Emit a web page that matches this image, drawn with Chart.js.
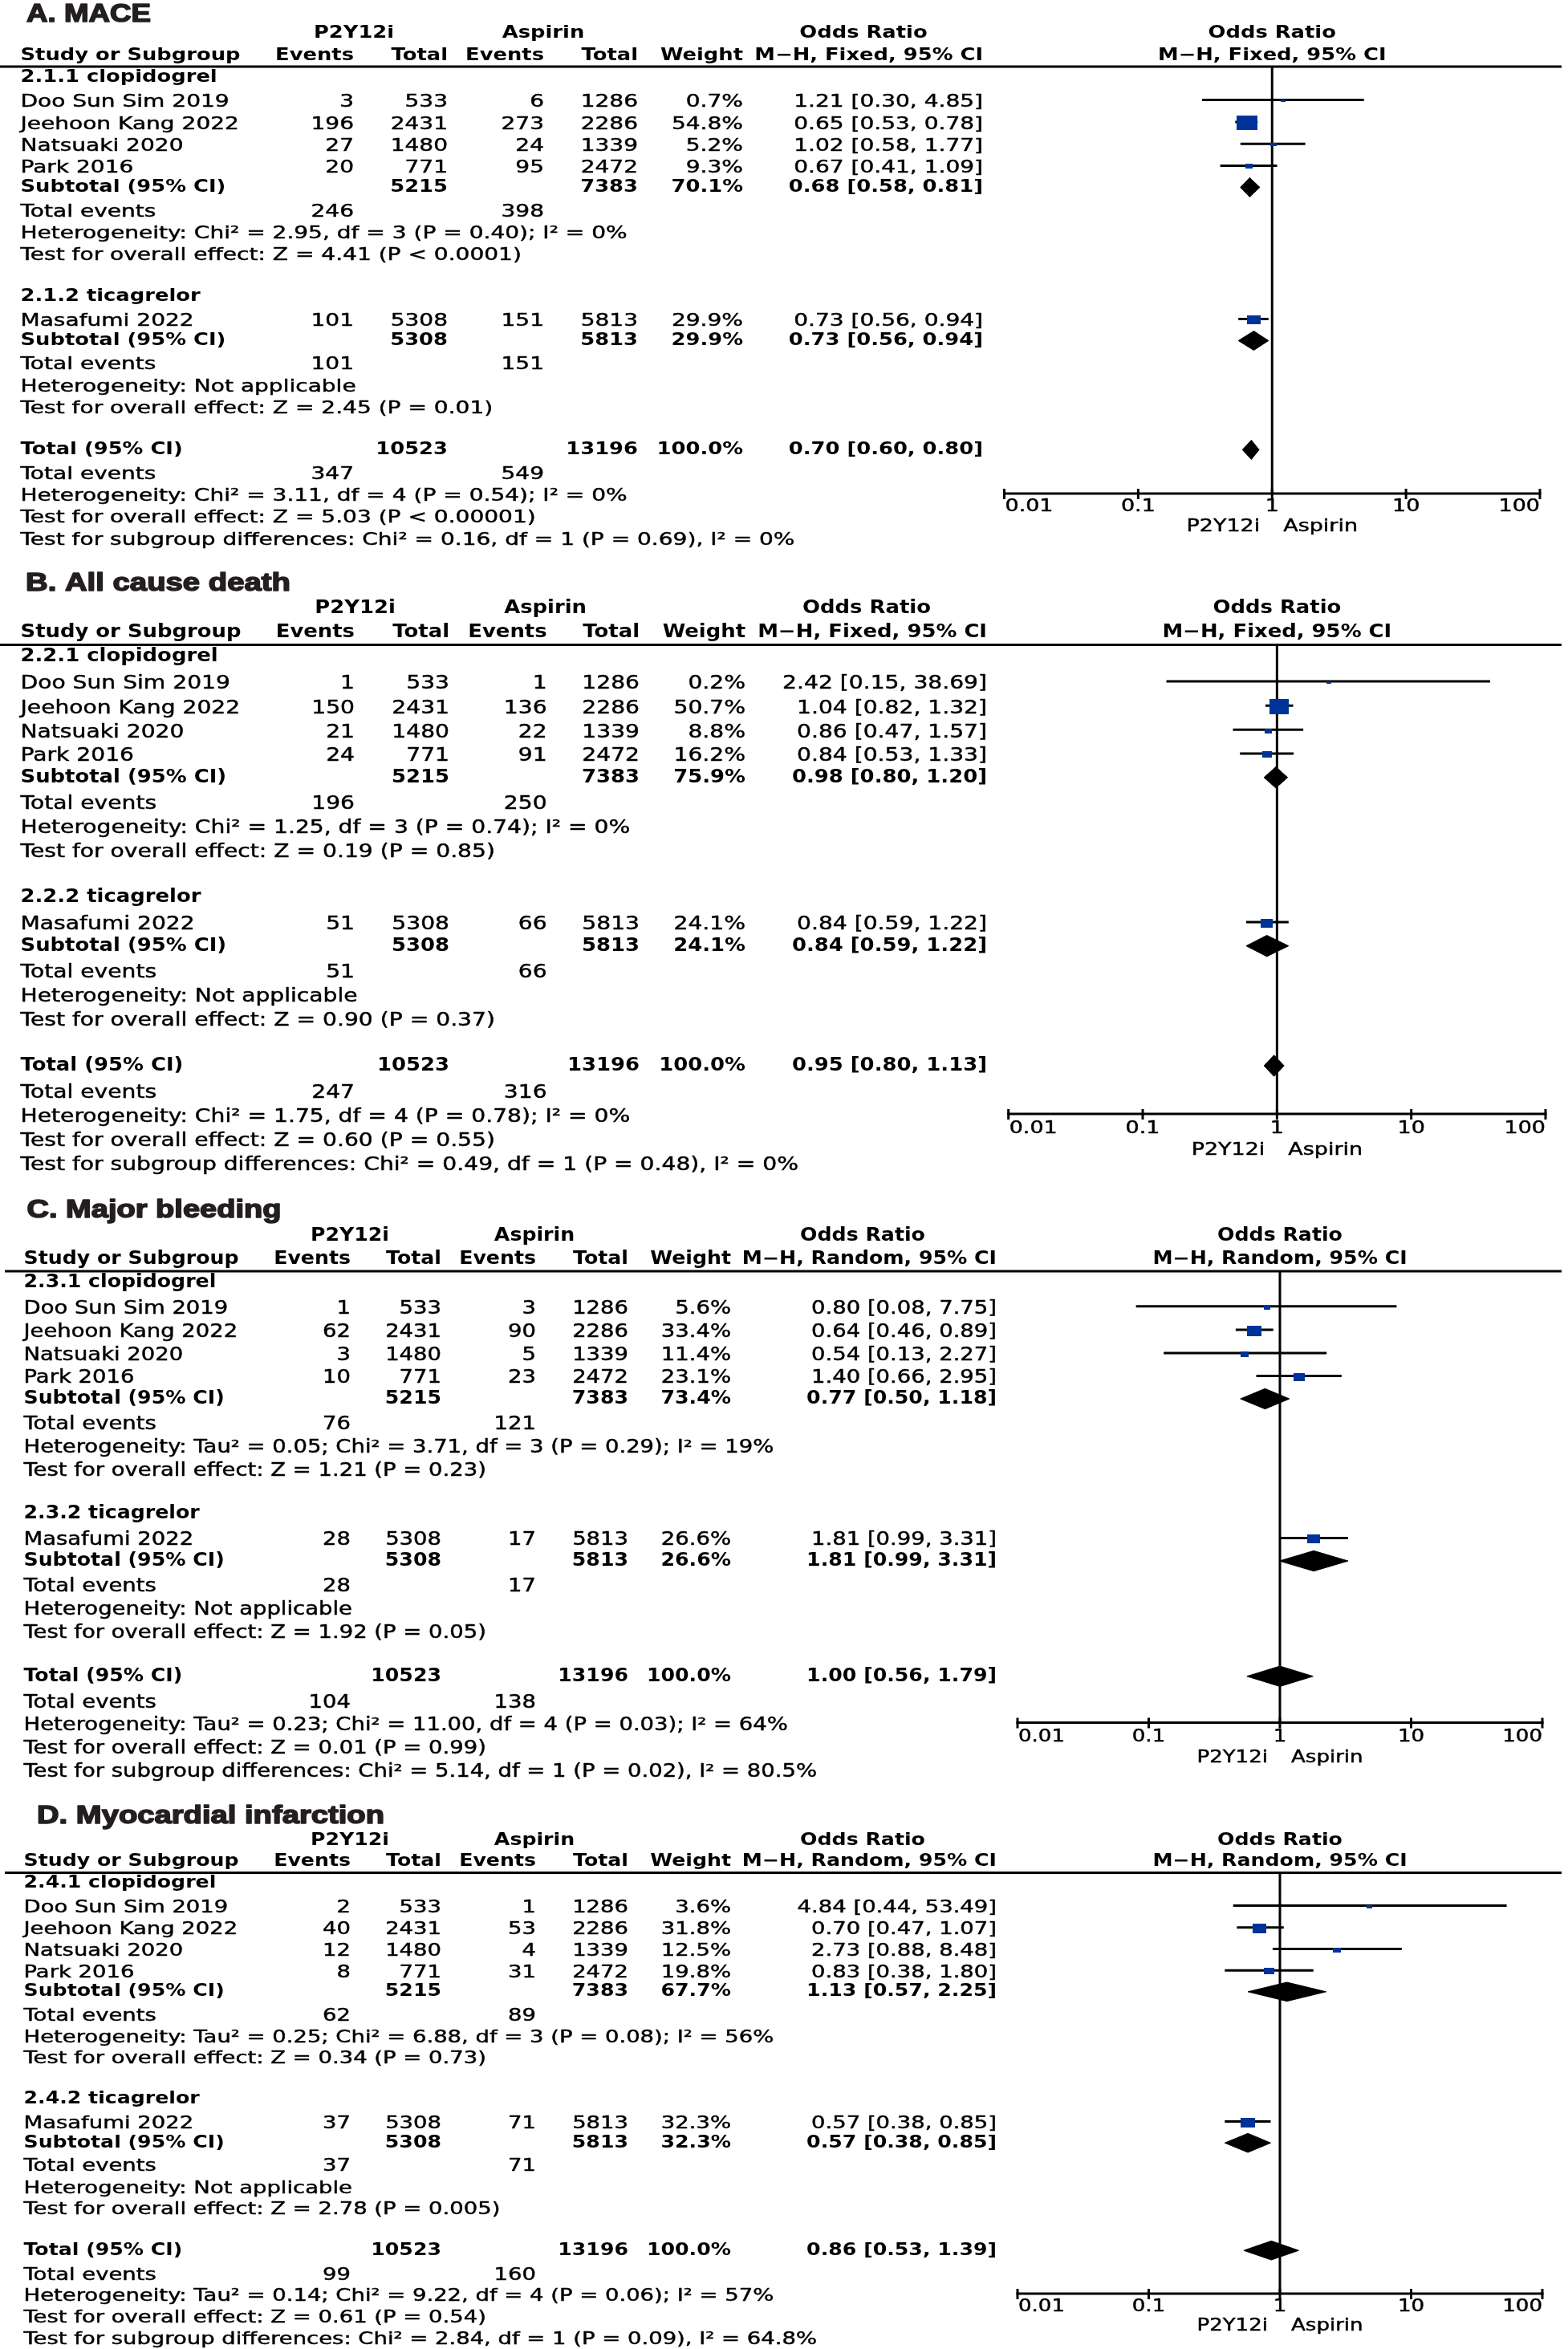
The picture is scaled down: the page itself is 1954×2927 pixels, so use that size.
<!DOCTYPE html>
<html><head><meta charset="utf-8">
<script src="https://cdn.jsdelivr.net/npm/chart.js@4.4.1/dist/chart.umd.min.js"></script>
<style>
html,body{margin:0;padding:0;background:#fff;}
#wrap{position:relative;width:1954px;height:2927px;overflow:hidden;background:#fff;}
canvas{position:absolute;left:0;}
</style></head><body><div id="wrap">
<canvas id="c0"></canvas><canvas id="c1"></canvas><canvas id="c2"></canvas><canvas id="c3"></canvas>
</div>
<script>
// ---------------- DATA ----------------
const studyNames = ['Doo Sun Sim 2019', 'Jeehoon Kang 2022', 'Natsuaki 2020', 'Park 2016', 'Masafumi 2022'];
const studySubgroup = [0, 0, 0, 0, 1];
const totalP2Y12i = [533, 2431, 1480, 771, 5308];
const totalAspirin = [1286, 2286, 1339, 2472, 5813];
const axisTicks = [0.01, 0.1, 1, 10, 100];
const axisTickLabels = ['0.01', '0.1', '1', '10', '100'];

// A. MACE
const maceEventsP2Y12i = [3, 196, 27, 20, 101];
const maceEventsAspirin = [6, 273, 24, 95, 151];
const maceWeight = [0.7, 54.8, 5.2, 9.3, 29.9];
const maceOR = [1.21, 0.65, 1.02, 0.67, 0.73];
const maceLower = [0.30, 0.53, 0.58, 0.41, 0.56];
const maceUpper = [4.85, 0.78, 1.77, 1.09, 0.94];
const maceSubWeight = [70.1, 29.9];
const maceSubOR = [0.68, 0.73];
const maceSubLower = [0.58, 0.56];
const maceSubUpper = [0.81, 0.94];
const maceTotalOR = [0.70, 0.60, 0.80];
const maceHet = ['Heterogeneity: Chi² = 2.95, df = 3 (P = 0.40); I² = 0%', 'Heterogeneity: Not applicable', 'Heterogeneity: Chi² = 3.11, df = 4 (P = 0.54); I² = 0%'];
const maceZ = ['Test for overall effect: Z = 4.41 (P < 0.0001)', 'Test for overall effect: Z = 2.45 (P = 0.01)', 'Test for overall effect: Z = 5.03 (P < 0.00001)'];
const maceSubgroupDiff = 'Test for subgroup differences: Chi² = 0.16, df = 1 (P = 0.69), I² = 0%';

// B. All cause death
const deathEventsP2Y12i = [1, 150, 21, 24, 51];
const deathEventsAspirin = [1, 136, 22, 91, 66];
const deathWeight = [0.2, 50.7, 8.8, 16.2, 24.1];
const deathOR = [2.42, 1.04, 0.86, 0.84, 0.84];
const deathLower = [0.15, 0.82, 0.47, 0.53, 0.59];
const deathUpper = [38.69, 1.32, 1.57, 1.33, 1.22];
const deathSubWeight = [75.9, 24.1];
const deathSubOR = [0.98, 0.84];
const deathSubLower = [0.80, 0.59];
const deathSubUpper = [1.20, 1.22];
const deathTotalOR = [0.95, 0.80, 1.13];
const deathHet = ['Heterogeneity: Chi² = 1.25, df = 3 (P = 0.74); I² = 0%', 'Heterogeneity: Not applicable', 'Heterogeneity: Chi² = 1.75, df = 4 (P = 0.78); I² = 0%'];
const deathZ = ['Test for overall effect: Z = 0.19 (P = 0.85)', 'Test for overall effect: Z = 0.90 (P = 0.37)', 'Test for overall effect: Z = 0.60 (P = 0.55)'];
const deathSubgroupDiff = 'Test for subgroup differences: Chi² = 0.49, df = 1 (P = 0.48), I² = 0%';

// C. Major bleeding
const bleedEventsP2Y12i = [1, 62, 3, 10, 28];
const bleedEventsAspirin = [3, 90, 5, 23, 17];
const bleedWeight = [5.6, 33.4, 11.4, 23.1, 26.6];
const bleedOR = [0.80, 0.64, 0.54, 1.40, 1.81];
const bleedLower = [0.08, 0.46, 0.13, 0.66, 0.99];
const bleedUpper = [7.75, 0.89, 2.27, 2.95, 3.31];
const bleedSubWeight = [73.4, 26.6];
const bleedSubOR = [0.77, 1.81];
const bleedSubLower = [0.50, 0.99];
const bleedSubUpper = [1.18, 3.31];
const bleedTotalOR = [1.00, 0.56, 1.79];
const bleedHet = ['Heterogeneity: Tau² = 0.05; Chi² = 3.71, df = 3 (P = 0.29); I² = 19%', 'Heterogeneity: Not applicable', 'Heterogeneity: Tau² = 0.23; Chi² = 11.00, df = 4 (P = 0.03); I² = 64%'];
const bleedZ = ['Test for overall effect: Z = 1.21 (P = 0.23)', 'Test for overall effect: Z = 1.92 (P = 0.05)', 'Test for overall effect: Z = 0.01 (P = 0.99)'];
const bleedSubgroupDiff = 'Test for subgroup differences: Chi² = 5.14, df = 1 (P = 0.02), I² = 80.5%';

// D. Myocardial infarction
const miEventsP2Y12i = [2, 40, 12, 8, 37];
const miEventsAspirin = [1, 53, 4, 31, 71];
const miWeight = [3.6, 31.8, 12.5, 19.8, 32.3];
const miOR = [4.84, 0.70, 2.73, 0.83, 0.57];
const miLower = [0.44, 0.47, 0.88, 0.38, 0.38];
const miUpper = [53.49, 1.07, 8.48, 1.80, 0.85];
const miSubWeight = [67.7, 32.3];
const miSubOR = [1.13, 0.57];
const miSubLower = [0.57, 0.38];
const miSubUpper = [2.25, 0.85];
const miTotalOR = [0.86, 0.53, 1.39];
const miHet = ['Heterogeneity: Tau² = 0.25; Chi² = 6.88, df = 3 (P = 0.08); I² = 56%', 'Heterogeneity: Not applicable', 'Heterogeneity: Tau² = 0.14; Chi² = 9.22, df = 4 (P = 0.06); I² = 57%'];
const miZ = ['Test for overall effect: Z = 0.34 (P = 0.73)', 'Test for overall effect: Z = 2.78 (P = 0.005)', 'Test for overall effect: Z = 0.61 (P = 0.54)'];
const miSubgroupDiff = 'Test for subgroup differences: Chi² = 2.84, df = 1 (P = 0.09), I² = 64.8%';

const panels = [
  {title:'A. MACE', model:'Fixed', groups:['2.1.1 clopidogrel','2.1.2 ticagrelor'], evP:maceEventsP2Y12i, evA:maceEventsAspirin, w:maceWeight, or:maceOR, lo:maceLower, hi:maceUpper, subW:maceSubWeight, subOR:maceSubOR, subLo:maceSubLower, subHi:maceSubUpper, tot:maceTotalOR, het:maceHet, z:maceZ, sgd:maceSubgroupDiff},
  {title:'B. All cause death', model:'Fixed', groups:['2.2.1 clopidogrel','2.2.2 ticagrelor'], evP:deathEventsP2Y12i, evA:deathEventsAspirin, w:deathWeight, or:deathOR, lo:deathLower, hi:deathUpper, subW:deathSubWeight, subOR:deathSubOR, subLo:deathSubLower, subHi:deathSubUpper, tot:deathTotalOR, het:deathHet, z:deathZ, sgd:deathSubgroupDiff},
  {title:'C. Major bleeding', model:'Random', groups:['2.3.1 clopidogrel','2.3.2 ticagrelor'], evP:bleedEventsP2Y12i, evA:bleedEventsAspirin, w:bleedWeight, or:bleedOR, lo:bleedLower, hi:bleedUpper, subW:bleedSubWeight, subOR:bleedSubOR, subLo:bleedSubLower, subHi:bleedSubUpper, tot:bleedTotalOR, het:bleedHet, z:bleedZ, sgd:bleedSubgroupDiff},
  {title:'D. Myocardial infarction', model:'Random', groups:['2.4.1 clopidogrel','2.4.2 ticagrelor'], evP:miEventsP2Y12i, evA:miEventsAspirin, w:miWeight, or:miOR, lo:miLower, hi:miUpper, subW:miSubWeight, subOR:miSubOR, subLo:miSubLower, subHi:miSubUpper, tot:miTotalOR, het:miHet, z:miZ, sgd:miSubgroupDiff}
];

// ---------------- LAYOUT ----------------
const layoutPx = [
  {top:0,    h:690, line:83,     axis:615,    x0:1251.5, x1:1919, titleX:33,   titleSlot:-2.87, titleW:155, sgdW:965,   boldW:274, axisW:60, cols:[25.5,441,558,678,795,926,1225], grp:[441,677,1076], lineX0:0},
  {top:690,  h:780, line:803.5,  axis:1388,   x0:1256.7, x1:1926, titleX:32,   titleSlot:-3.03, titleW:330, sgdW:969.5, boldW:275, axisW:60, cols:[25.5,442,560,681.6,797,929,1230], grp:[442.5,679.6,1080], lineX0:0},
  {top:1470, h:755, line:1584,   axis:2146.5, x0:1268,   x1:1922, titleX:33.5, titleSlot:-3.11, titleW:317, sgdW:988.5, boldW:268, axisW:58, cols:[29.5,437,550,668,783,911,1242], grp:[436,666,1075], lineX0:6},
  {top:2225, h:702, line:2333.6, axis:2858,   x0:1268,   x1:1922, titleX:46,   titleSlot:-3.12, titleW:433, sgdW:988.5, boldW:268, axisW:58, cols:[29.5,437,550,668,783,911,1242], grp:[436,666,1075], lineX0:6}
];
const SLOT = {hdr1:-2.0, hdr2:-1.0, grp:[0,10.0], study:[1.14,2.15,3.15,4.14,11.14], sub:[5.02,12.02], te:[6.15,13.12], het:[7.15,14.13], z:[8.14,15.13], total:17.0, totTe:18.15, totHet:19.13, totZ:20.13, sgd:21.13, tickLbl:19.62, dirLbl:20.51};
const Y_MIN = -0.49, Y_MAX = 19.0;
const MARK_LINE = -0.11, MARK_BOX = -0.07, DIAMOND_HALF = 0.44;
const BOX_COLOR = '#003399';

const fmtOR = (o, l, h) => o.toFixed(2) + ' [' + l.toFixed(2) + ', ' + h.toFixed(2) + ']';
const sum = (arr, idx) => arr.reduce((a, v, k) => a + (idx.includes(k) ? v : 0), 0);

function boxImg(w, u) {
  const c = document.createElement('canvas');
  const bw = Math.max(6, Math.round(5.7 + 0.37 * w));
  const bh = Math.max(3, Math.round((3.0 + 0.28 * w) * u / 27.3));
  c.width = bw; c.height = bh;
  const g = c.getContext('2d'); g.fillStyle = BOX_COLOR; g.fillRect(0, 0, bw, bh);
  return c;
}

function txt(ctx, s, x, y, font, sx, align, stroke) {
  ctx.save();
  ctx.font = font; ctx.textBaseline = 'middle'; ctx.textAlign = 'left';
  const w = ctx.measureText(s).width * sx;
  const x0 = align === 'right' ? x - w : (align === 'center' ? x - w / 2 : x);
  ctx.translate(x0, y); ctx.scale(sx, 1); ctx.fillText(s, 0, 0);
  if (stroke) { ctx.lineWidth = stroke; ctx.strokeStyle = ctx.fillStyle; ctx.lineJoin = 'round'; ctx.strokeText(s, 0, 0); }
  ctx.restore();
}

function drawTable(chart, i) {
  const ctx = chart.ctx, xs = chart.scales.x, ys = chart.scales.y, L = layoutPx[i], P = panels[i];
  const area = chart.chartArea;
  const Y = s => ys.getPixelForValue(s);
  const u = Math.abs(Y(1) - Y(0));
  const fs = 21.5 * Math.sqrt(u / 27.3);
  const reg = fs.toFixed(2) + 'px "DejaVu Sans"', bold = 'bold ' + reg;
  const RS = 0.45; // slight stroke for regular text weight
  ctx.save();
  ctx.fillStyle = '#000';
  ctx.font = reg; const sxR = L.sgdW / ctx.measureText(P.sgd).width;
  ctx.font = bold; const sxB = L.boldW / ctx.measureText('Study or Subgroup').width;
  const tFont = 'bold 32px "Liberation Sans", "DejaVu Sans", sans-serif';
  ctx.font = tFont; const sxT = L.titleW / ctx.measureText(P.title).width;
  const c = L.cols;

  // title
  ctx.fillStyle = '#231f20';
  txt(ctx, P.title, L.titleX, Y(L.titleSlot), tFont, sxT, 'left', 1.6);
  ctx.fillStyle = '#000';

  // headers
  txt(ctx, 'P2Y12i', L.grp[0], Y(SLOT.hdr1), bold, sxB, 'center');
  txt(ctx, 'Aspirin', L.grp[1], Y(SLOT.hdr1), bold, sxB, 'center');
  txt(ctx, 'Odds Ratio', L.grp[2], Y(SLOT.hdr1), bold, sxB, 'center');
  const x1 = xs.getPixelForValue(1);
  txt(ctx, 'Odds Ratio', x1, Y(SLOT.hdr1), bold, sxB, 'center');
  const mh = 'M−H, ' + P.model + ', 95% CI';
  const h2 = Y(SLOT.hdr2);
  txt(ctx, 'Study or Subgroup', c[0], h2, bold, sxB, 'left');
  txt(ctx, 'Events', c[1], h2, bold, sxB, 'right');
  txt(ctx, 'Total', c[2], h2, bold, sxB, 'right');
  txt(ctx, 'Events', c[3], h2, bold, sxB, 'right');
  txt(ctx, 'Total', c[4], h2, bold, sxB, 'right');
  txt(ctx, 'Weight', c[5], h2, bold, sxB, 'right');
  txt(ctx, mh, c[6], h2, bold, sxB, 'right');
  txt(ctx, mh, x1, h2, bold, sxB, 'center');

  // header rule
  ctx.fillRect(L.lineX0, area.top - 1.5, 1946 - L.lineX0, 3);

  // subgroups
  for (let g = 0; g < 2; g++) {
    const idx = studySubgroup.map((s, k) => s === g ? k : -1).filter(k => k >= 0);
    txt(ctx, P.groups[g], c[0], Y(SLOT.grp[g]), bold, sxB, 'left');
    idx.forEach(k => {
      const y = Y(SLOT.study[k]);
      txt(ctx, studyNames[k], c[0], y, reg, sxR, 'left', RS);
      txt(ctx, String(P.evP[k]), c[1], y, reg, sxR, 'right', RS);
      txt(ctx, String(totalP2Y12i[k]), c[2], y, reg, sxR, 'right', RS);
      txt(ctx, String(P.evA[k]), c[3], y, reg, sxR, 'right', RS);
      txt(ctx, String(totalAspirin[k]), c[4], y, reg, sxR, 'right', RS);
      txt(ctx, P.w[k].toFixed(1) + '%', c[5], y, reg, sxR, 'right', RS);
      txt(ctx, fmtOR(P.or[k], P.lo[k], P.hi[k]), c[6], y, reg, sxR, 'right', RS);
    });
    const ys2 = Y(SLOT.sub[g]);
    txt(ctx, 'Subtotal (95% CI)', c[0], ys2, bold, sxB, 'left');
    txt(ctx, String(sum(totalP2Y12i, idx)), c[2], ys2, bold, sxB, 'right');
    txt(ctx, String(sum(totalAspirin, idx)), c[4], ys2, bold, sxB, 'right');
    txt(ctx, P.subW[g].toFixed(1) + '%', c[5], ys2, bold, sxB, 'right');
    txt(ctx, fmtOR(P.subOR[g], P.subLo[g], P.subHi[g]), c[6], ys2, bold, sxB, 'right');
    const yt = Y(SLOT.te[g]);
    txt(ctx, 'Total events', c[0], yt, reg, sxR, 'left', RS);
    txt(ctx, String(sum(P.evP, idx)), c[1], yt, reg, sxR, 'right', RS);
    txt(ctx, String(sum(P.evA, idx)), c[3], yt, reg, sxR, 'right', RS);
    txt(ctx, P.het[g], c[0], Y(SLOT.het[g]), reg, sxR, 'left', RS);
    txt(ctx, P.z[g], c[0], Y(SLOT.z[g]), reg, sxR, 'left', RS);
  }
  const all = [0, 1, 2, 3, 4];
  const yT = Y(SLOT.total);
  txt(ctx, 'Total (95% CI)', c[0], yT, bold, sxB, 'left');
  txt(ctx, String(sum(totalP2Y12i, all)), c[2], yT, bold, sxB, 'right');
  txt(ctx, String(sum(totalAspirin, all)), c[4], yT, bold, sxB, 'right');
  txt(ctx, (P.subW[0] + P.subW[1]).toFixed(1) + '%', c[5], yT, bold, sxB, 'right');
  txt(ctx, fmtOR(P.tot[0], P.tot[1], P.tot[2]), c[6], yT, bold, sxB, 'right');
  const yTE = Y(SLOT.totTe);
  txt(ctx, 'Total events', c[0], yTE, reg, sxR, 'left', RS);
  txt(ctx, String(sum(P.evP, all)), c[1], yTE, reg, sxR, 'right', RS);
  txt(ctx, String(sum(P.evA, all)), c[3], yTE, reg, sxR, 'right', RS);
  txt(ctx, P.het[2], c[0], Y(SLOT.totHet), reg, sxR, 'left', RS);
  txt(ctx, P.z[2], c[0], Y(SLOT.totZ), reg, sxR, 'left', RS);
  txt(ctx, P.sgd, c[0], Y(SLOT.sgd), reg, sxR, 'left', RS);

  // x axis
  const xa = xs.getPixelForValue(axisTicks[0]), xb = xs.getPixelForValue(axisTicks[axisTicks.length - 1]);
  ctx.fillRect(xa - 1.5, area.bottom - 1.5, xb - xa + 3, 3);
  const aFont = '21px "DejaVu Sans"';
  ctx.font = aFont; const sxA = L.axisW / ctx.measureText('0.01').width;
  axisTicks.forEach((t, k) => {
    const x = xs.getPixelForValue(t);
    ctx.fillRect(x - 1.5, area.bottom - 6, 3, 13);
    const al = k === 0 ? 'left' : (k === axisTicks.length - 1 ? 'right' : 'center');
    txt(ctx, axisTickLabels[k], x + (k === 0 ? 1 : 0), Y(SLOT.tickLbl), aFont, sxA, al, RS);
  });
  txt(ctx, 'P2Y12i', x1 - 15, Y(SLOT.dirLbl), aFont, sxA, 'right', RS);
  txt(ctx, 'Aspirin', x1 + 14, Y(SLOT.dirLbl), aFont, sxA, 'left', RS);
  ctx.restore();
}

function buildPanel(i) {
  const L = layoutPx[i], P = panels[i];
  const cv = document.getElementById('c' + i);
  cv.width = 1954; cv.height = L.h;
  cv.style.top = L.top + 'px'; cv.style.width = '1954px'; cv.style.height = L.h + 'px';
  const u = (L.axis - L.line) / (Y_MAX - Y_MIN);
  const ds = [];
  ds.push({data:[{x:1, y:Y_MIN}, {x:1, y:Y_MAX}], showLine:true, borderColor:'#000', borderWidth:3, pointRadius:0, order:6});
  P.or.forEach((v, k) => {
    const s = SLOT.study[k] + MARK_LINE;
    ds.push({data:[{x:P.lo[k], y:s}, {x:P.hi[k], y:s}], showLine:true, borderColor:'#000', borderWidth:3, pointRadius:0, order:5});
  });
  ds.push({data:P.or.map((v, k) => ({x:v, y:SLOT.study[k] + MARK_BOX})), showLine:false, pointStyle:P.w.map(w => boxImg(w, u)), pointRadius:3, order:3});
  const diamond = (est, lo, hi, s) => ({
    data:[{x:lo, y:s}, {x:est, y:s - DIAMOND_HALF}, {x:hi, y:s}, {x:est, y:s + DIAMOND_HALF}, {x:lo, y:s}],
    showLine:true, fill:'shape', backgroundColor:'#000', borderColor:'#000', borderWidth:1, pointRadius:0, tension:0, order:2
  });
  ds.push(diamond(P.subOR[0], P.subLo[0], P.subHi[0], SLOT.sub[0]));
  ds.push(diamond(P.subOR[1], P.subLo[1], P.subHi[1], SLOT.sub[1]));
  ds.push(diamond(P.tot[0], P.tot[1], P.tot[2], SLOT.total));

  new Chart(cv, {
    type:'scatter',
    data:{datasets:ds},
    options:{
      responsive:false, animation:false, devicePixelRatio:1, events:[],
      layout:{padding:{left:L.x0, right:1954 - L.x1, top:L.line - L.top, bottom:L.top + L.h - L.axis}},
      scales:{
        x:{type:'logarithmic', min:0.01, max:100, display:false},
        y:{type:'linear', min:Y_MIN, max:Y_MAX, reverse:true, display:false}
      },
      plugins:{legend:{display:false}, tooltip:{enabled:false}}
    },
    plugins:[{id:'forestTable' + i, afterDraw(chart){ drawTable(chart, i); }}]
  });
}
[0, 1, 2, 3].forEach(buildPanel);
</script>
</body></html>
